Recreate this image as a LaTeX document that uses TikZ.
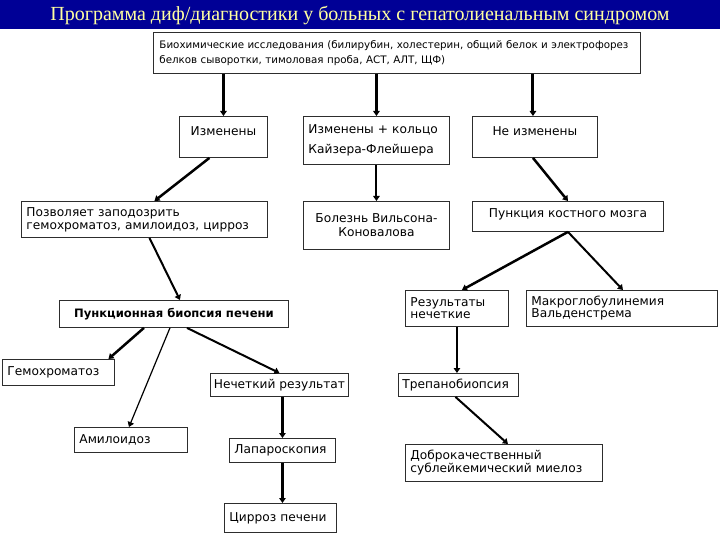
\documentclass[tikz,border=0pt]{standalone}
\usepackage{fontspec}
\usepackage{xcolor}
\usepackage{tikz}
\usetikzlibrary{arrows.meta,calc}
\newfontfamily\boxfont{DejaVu Sans}
\newfontfamily\titlefont{Liberation Serif}
\definecolor{slideblue}{RGB}{0,0,150}
\definecolor{slideyellow}{RGB}{255,255,160}
\definecolor{boxline}{RGB}{45,45,45}

\begin{document}
\begin{tikzpicture}[
  x=1pt, y=-1pt,
  box/.style={draw=boxline, line width=0.9pt, anchor=north west, align=left,
              inner xsep=5pt, inner ysep=0pt,
              font=\boxfont\fontsize{12.2}{13}\selectfont},
  cbox/.style={box, align=center},
  arr/.style={-{Triangle[length=5pt,width=6.5pt]}, line width=2pt},
  thickarr/.style={arr, line width=3pt},
  thinarr/.style={arr, line width=1.2pt}
]
\useasboundingbox (0,0) rectangle (720,540);
\fill[white] (0,0) rectangle (720,540);
\fill[slideblue] (0,0) rectangle (720,29);

\node[text=slideyellow, font=\titlefont\fontsize{20}{20}\selectfont] (title) at (360,15.5)
  {Программа диф/диагностики у больных с гепатолиенальным синдромом};

% first level
\node[box, minimum width=487, minimum height=41, text width=475, inner xsep=6pt,
      font=\boxfont\fontsize{10.3}{15}\selectfont] (bio) at (153,32)
  {Биохимические исследования (билирубин, холестерин, общий белок и электрофорез\\
   белков сыворотки, тимоловая проба, АСТ, АЛТ, ЩФ)};

\node[cbox, minimum width=88, minimum height=41, text height=9pt, text depth=11pt] (izm) at (179,116)
  {Изменены};
\node[box, minimum width=146, minimum height=48, text width=136,
      font=\boxfont\fontsize{12.2}{20}\selectfont] (izmk) at (303,116)
  {Изменены + кольцо\\Кайзера-Флейшера};
\node[cbox, minimum width=125, minimum height=41, text height=9pt, text depth=11pt] (neizm) at (472,116)
  {Не изменены};

% second level
\node[box, minimum width=246, minimum height=36, text width=236] (susp) at (21,201)
  {Позволяет заподозрить\\гемохроматоз, амилоидоз, цирроз};
\node[cbox, minimum width=146, minimum height=48,
      font=\boxfont\fontsize{12.2}{14}\selectfont] (wilson) at (303,201)
  {Болезнь Вильсона-\\Коновалова};
\node[cbox, minimum width=191, minimum height=30, text height=9pt, text depth=6pt] (bone) at (472,201)
  {Пункция костного мозга};

% third level
\node[cbox, minimum width=229, minimum height=27,
      font=\boxfont\bfseries\fontsize{11.6}{13}\selectfont] (liver) at (59,300)
  {Пункционная биопсия печени};
\node[box, minimum width=103, minimum height=36, text width=93,
      font=\boxfont\fontsize{12.2}{12}\selectfont] (unclr) at (405,290)
  {Результаты\\нечеткие};
\node[box, minimum width=191, minimum height=36, text width=181,
      font=\boxfont\fontsize{12.2}{12}\selectfont] (waldo) at (526,290)
  {Макроглобулинемия\\Вальденстрема};

% outcomes
\node[box, minimum width=112, minimum height=26, text width=102] (hemo) at (2,359) {Гемохроматоз};
\node[cbox, minimum width=138, minimum height=23, inner xsep=2pt] (fuzzy) at (210,373) {Нечеткий результат};
\node[box, minimum width=120, minimum height=23, text width=112, inner xsep=4pt] (trep) at (398,373) {Трепанобиопсия};
\node[box, minimum width=113, minimum height=25, text width=103] (amyl) at (74,427) {Амилоидоз};
\node[box, minimum width=106, minimum height=24, text width=96] (lapa) at (229,438) {Лапароскопия};
\node[box, minimum width=197, minimum height=37, text width=187] (benign) at (405,444)
  {Доброкачественный\\сублейкемический миелоз};
\node[box, minimum width=112, minimum height=29, text width=102] (cirr) at (224,503) {Цирроз печени};

% connectors
\draw[thickarr] (bio.south -| izm.north) -- (izm.north);
\draw[thickarr] (bio.south -| izmk.north) -- (izmk.north);
\draw[thickarr] ([xshift=-2pt]bio.south -| neizm.north) -- ([xshift=-2pt]neizm.north);

\draw[arr, line width=2.5pt] ([xshift=-14pt]izm.south) -- ([xshift=10pt]susp.north);
\draw[arr] ([xshift=5pt]susp.south) -- ([xshift=6pt]liver.north);
\draw[arr] (izmk.south) -- (izmk.south |- wilson.north);
\draw[arr, line width=2.5pt] ([xshift=-2pt]neizm.south) -- (bone.north);

\draw[arr, line width=2.5pt] (bone.south) -- ([xshift=5pt]unclr.north);
\draw[arr] (bone.south) -- ([xshift=1pt]waldo.north);
\draw[arr] (unclr.south) -- (unclr.south |- trep.north);
\draw[arr] ([xshift=-3pt]trep.south) -- ([xshift=4pt]benign.north);

\draw[arr, line width=2.5pt] ([xshift=-30pt]liver.south) -- ([xshift=50pt]hemo.north);
\draw[thinarr] ([xshift=-4pt]liver.south) -- ([xshift=-2pt]amyl.north);
\draw[arr] ([xshift=13pt]liver.south) -- (fuzzy.north);
\draw[thickarr] (fuzzy.south -| lapa.north) -- (lapa.north);
\draw[thickarr] (lapa.south) -- (lapa.south |- cirr.north);
\end{tikzpicture}
\end{document}
